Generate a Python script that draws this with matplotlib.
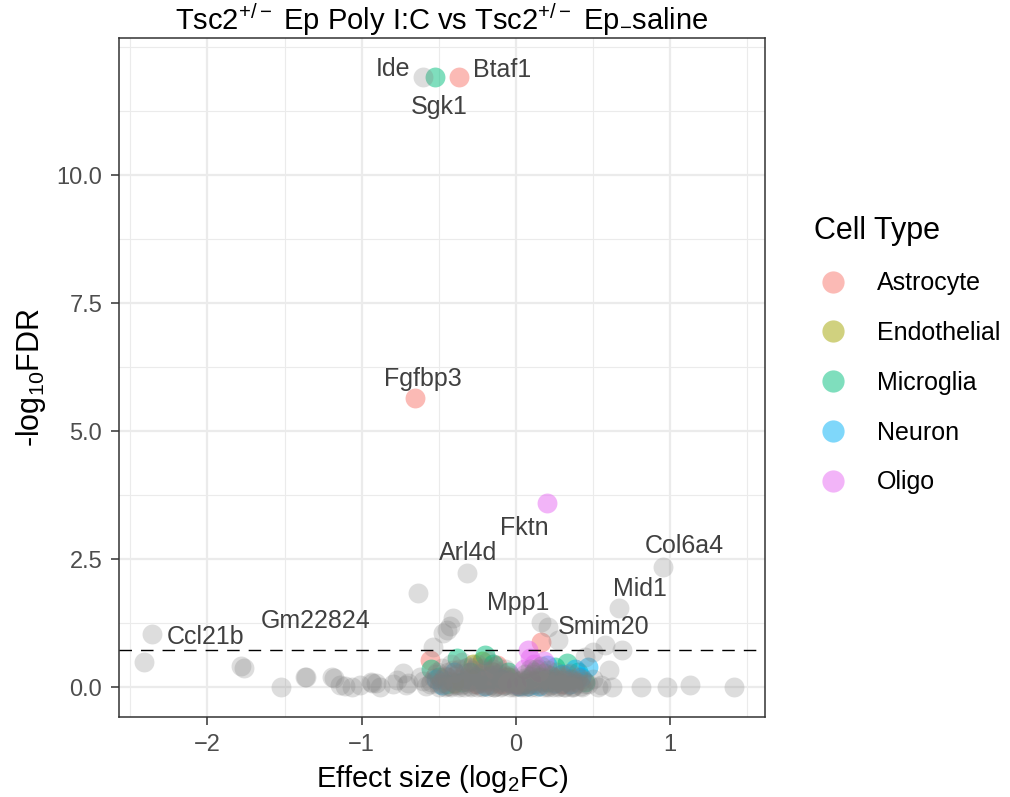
import matplotlib

matplotlib.use("Agg")
import matplotlib.pyplot as plt
from matplotlib.lines import Line2D
from matplotlib.ticker import MultipleLocator

plt.rcParams["font.family"] = ["Liberation Sans", "DejaVu Sans"]
plt.rcParams["mathtext.fontset"] = "custom"
plt.rcParams["mathtext.rm"] = "Liberation Sans"
plt.rcParams["mathtext.it"] = "Liberation Sans:italic"

# ---- data ----
cell_types = ["Astrocyte", "Endothelial", "Microglia", "Neuron", "Oligo"]
cell_colors = ["#F8766D", "#A3A500", "#00BF7D", "#00B0F6", "#E76BF3"]

grey_x = [
    -2.41, -2.36, -1.78, -1.76, -1.52, -1.37, -1.36, -1.19, -1.18, -1.14,
    -1.11, -1.06, -1.01, -0.94, -0.93, -0.91, -0.88, -0.80, -0.77, -0.73,
    -0.71, -0.70, -0.635, -0.54, -0.47, -0.45, -0.43, -0.41, -0.32, 0.16,
    0.21, 0.27, 0.36, 0.45, 0.50, 0.53, 0.58, 0.60, 0.62, 0.67, 0.69,
    0.81, 0.95, 0.98, 1.13, 1.41, -0.60,
]
grey_y = [
    0.49, 1.04, 0.41, 0.37, 0.00, 0.20, 0.20, 0.20, 0.17, 0.04,
    0.02, 0.00, 0.04, 0.10, 0.08, 0.08, 0.00, 0.05, 0.14, 0.27,
    0.04, 0.08, 1.84, 0.78, 1.05, 1.11, 1.20, 1.35, 2.22, 1.27,
    1.17, 0.92, 0.00, 0.59, 0.68, 0.00, 0.82, 0.33, 0.00, 1.54, 0.72,
    0.00, 2.35, 0.00, 0.04, 0.00, 11.91,
]

# dense non-significant cloud around zero
cloud_x = [
    -0.62, -0.60, -0.58, -0.55, -0.52, -0.50, -0.48, -0.47, -0.45, -0.44,
    -0.42, -0.41, -0.40, -0.38, -0.37, -0.36, -0.35, -0.34, -0.33, -0.32,
    -0.31, -0.30, -0.29, -0.28, -0.27, -0.26, -0.25, -0.24, -0.23, -0.22,
    -0.21, -0.20, -0.19, -0.18, -0.17, -0.16, -0.15, -0.14, -0.13, -0.12,
    -0.11, -0.10, -0.09, -0.08, -0.07, -0.06, -0.05, -0.04, -0.03, -0.02,
    -0.01, 0.00, 0.01, 0.02, 0.03, 0.04, 0.05, 0.06, 0.07, 0.08,
    0.09, 0.10, 0.11, 0.12, 0.13, 0.14, 0.15, 0.16, 0.17, 0.18,
    0.19, 0.20, 0.21, 0.22, 0.23, 0.24, 0.26, 0.27, 0.28, 0.29,
    0.30, 0.32, 0.33, 0.35, 0.36, 0.38, 0.40, 0.42, 0.44, 0.47,
    0.50, 0.55, -0.46, -0.34, -0.22, -0.14, -0.04, 0.06, 0.18, 0.31,
]
cloud_y = [
    0.20, 0.12, 0.02, 0.10, 0.25, 0.05, 0.38, 0.15, 0.02, 0.30,
    0.45, 0.10, 0.22, 0.03, 0.35, 0.14, 0.48, 0.06, 0.27, 0.18,
    0.40, 0.01, 0.12, 0.33, 0.22, 0.05, 0.44, 0.16, 0.28, 0.02,
    0.37, 0.10, 0.20, 0.50, 0.04, 0.31, 0.13, 0.24, 0.41, 0.07,
    0.18, 0.30, 0.01, 0.12, 0.36, 0.22, 0.06, 0.15, 0.20, 0.03,
    0.10, 0.01, 0.05, 0.12, 0.02, 0.14, 0.08, 0.25, 0.01, 0.16,
    0.35, 0.06, 0.25, 0.12, 0.35, 0.03, 0.20, 0.42, 0.09, 0.28,
    0.15, 0.02, 0.33, 0.10, 0.22, 0.05, 0.30, 0.14, 0.01, 0.24,
    0.08, 0.18, 0.03, 0.27, 0.11, 0.05, 0.20, 0.02, 0.12, 0.05,
    0.15, 0.03, 0.00, 0.00, 0.00, 0.00, 0.00, 0.00, 0.00, 0.00,
]
cloud2_x = [
    -0.56, -0.53, -0.51, -0.49, -0.46, -0.44, -0.43, -0.41, -0.39, -0.38,
    -0.36, -0.35, -0.33, -0.31, -0.30, -0.28, -0.27, -0.26, -0.24, -0.23,
    -0.21, -0.20, -0.19, -0.17, -0.16, -0.15, -0.13, -0.12, -0.11, -0.09,
    -0.08, -0.07, -0.06, -0.04, -0.03, -0.02, 0.00, 0.01, 0.02, 0.04,
    0.05, 0.07, 0.08, 0.09, 0.11, 0.12, 0.14, 0.15, 0.17, 0.19,
    0.20, 0.22, 0.23, 0.25, 0.26, 0.28, 0.29, 0.31, 0.33, 0.34,
    0.36, 0.37, 0.39, 0.41, 0.43, 0.45, -0.50, -0.42, -0.37, -0.29,
    -0.25, -0.18, -0.14, -0.10, -0.01, 0.03, 0.10, 0.13, 0.21, 0.24,
    0.27, 0.32, 0.37, 0.43, -0.48, -0.39, -0.32, -0.26, -0.16, -0.08,
]
cloud2_y = [
    0.05, 0.18, 0.30, 0.08, 0.22, 0.12, 0.02, 0.34, 0.16, 0.26,
    0.04, 0.20, 0.38, 0.10, 0.28, 0.06, 0.15, 0.40, 0.24, 0.08,
    0.14, 0.32, 0.03, 0.22, 0.12, 0.36, 0.02, 0.18, 0.26, 0.09,
    0.20, 0.04, 0.14, 0.24, 0.08, 0.16, 0.06, 0.02, 0.09, 0.03,
    0.18, 0.11, 0.05, 0.22, 0.14, 0.30, 0.08, 0.12, 0.20, 0.06,
    0.16, 0.24, 0.03, 0.18, 0.10, 0.20, 0.05, 0.14, 0.26, 0.09,
    0.16, 0.02, 0.10, 0.08, 0.15, 0.06, 0.00, 0.00, 0.00, 0.00,
    0.00, 0.00, 0.00, 0.00, 0.00, 0.00, 0.00, 0.00, 0.00, 0.00,
    0.00, 0.00, 0.00, 0.00, 0.10, 0.06, 0.12, 0.10, 0.06, 0.04,
]

astro_x = [-0.655, -0.37, -0.56, 0.16, -0.12, -0.15, -0.30, -0.10, 0.05, 0.20, -0.45, 0.30, -0.25]
astro_y = [5.64, 11.91, 0.53, 0.88, 0.43, 0.30, 0.15, 0.05, 0.10, 0.25, 0.20, 0.05, 0.05]

endo_x = [-0.22, -0.05, 0.10, -0.40, 0.25, -0.28]
endo_y = [0.50, 0.20, 0.10, 0.08, 0.15, 0.45]

micro_x = [
    -0.525, -0.38, -0.20, 0.33, -0.50, -0.45, -0.30, -0.15, -0.05, 0.05,
    0.15, 0.25, 0.40, -0.35, 0.20, 0.35, -0.25, 0.45, -0.55, 0.10,
]
micro_y = [
    11.91, 0.56, 0.62, 0.47, 0.20, 0.05, 0.30, 0.45, 0.30, 0.05,
    0.35, 0.40, 0.30, 0.10, 0.10, 0.15, 0.20, 0.10, 0.35, 0.20,
]

neuron_x = [0.20, 0.47, 0.38, -0.52, -0.48, 0.02, 0.08, 0.12, 0.30, -0.40, 0.25, 0.42, -0.10, 0.15, -0.20, 0.35]
neuron_y = [0.43, 0.39, 0.35, 0.15, 0.03, 0.02, 0.01, 0.05, 0.25, 0.30, 0.08, 0.20, 0.15, 0.02, 0.02, 0.05]

oligo_x = [0.20, 0.09, 0.08, 0.12, 0.05, 0.15, -0.05, 0.10, 0.18, 0.00]
oligo_y = [3.59, 0.56, 0.72, 0.45, 0.35, 0.30, 0.10, 0.15, 0.50, 0.05]

# labelled genes: name, point, text offset in points (dx, dy)
label_genes = ["Ide", "Btaf1", "Sgk1", "Fgfbp3", "Fktn", "Arl4d",
               "Col6a4", "Mid1", "Mpp1", "Smim20", "Gm22824", "Ccl21b"]
label_x = [-0.60, -0.37, -0.525, -0.655, 0.20, -0.32,
           0.95, 0.67, 0.16, 0.21, -0.635, -2.36]
label_y = [11.91, 11.91, 11.91, 5.64, 3.59, 2.22,
           2.35, 1.54, 1.27, 1.17, 1.84, 1.04]
label_dx = [-22, 31, 3, 6, -16, 1, 16, 15, -16, 40, -74, 39]
label_dy = [6, 5, -21, 14, -18, 15, 15, 14, 14, 0, -20, -2]

fdr_line = 0.72

# ---- figure ----
fig = plt.figure(figsize=(10.10, 7.97), dpi=100)
ax = fig.add_axes([119 / 1010, 1 - 717 / 797, (765 - 119) / 1010, (717 - 38) / 797])

size = 205
alpha = 0.5
grey = "#7F7F7F"
grey_alpha = 0.26

groups = [
    (astro_x, astro_y),
    (endo_x, endo_y),
    (micro_x, micro_y),
    (neuron_x, neuron_y),
    (oligo_x, oligo_y),
]
for (gx, gy), color in zip(groups, cell_colors):
    ax.scatter(gx, gy, s=size, color=color, alpha=alpha, linewidths=0, zorder=3)

for gx, gy in [(cloud_x, cloud_y), (cloud2_x, cloud2_y), (grey_x, grey_y)]:
    ax.scatter(gx, gy, s=size, color=grey, alpha=grey_alpha, linewidths=0, zorder=3)

ax.axhline(fdr_line, color="black", linestyle=(0, (9, 6.5)), linewidth=1.0, zorder=4)

for name, x, y, dx, dy in zip(label_genes, label_x, label_y, label_dx, label_dy):
    ax.annotate(
        name,
        (x, y),
        xytext=(dx, dy),
        textcoords="offset points",
        ha="center",
        va="center",
        fontsize=18,
        color="#404040",
        zorder=5,
    )

ax.set_xlim(-2.573, 1.614)
ax.set_ylim(-0.586, 12.68)
ax.xaxis.set_minor_locator(MultipleLocator(0.5))
ax.yaxis.set_minor_locator(MultipleLocator(1.25))
ax.set_xticks([-2, -1, 0, 1])
ax.set_xticklabels(["\u22122", "\u22121", "0", "1"])
ax.set_yticks([0, 2.5, 5, 7.5, 10])
ax.set_yticklabels(["0.0", "2.5", "5.0", "7.5", "10.0"])

ax.grid(which="major", color="#EBEBEB", linewidth=1.6, zorder=0)
ax.grid(which="minor", color="#EBEBEB", linewidth=0.8, zorder=0)
ax.set_axisbelow(True)
ax.tick_params(which="major", length=6, width=1.1, color="#333333",
               labelsize=17, labelcolor="#4D4D4D", pad=6)
ax.tick_params(which="minor", length=0)
for spine in ax.spines.values():
    spine.set_color("#333333")
    spine.set_linewidth(1.1)

ax.set_xlabel("Effect size (log$_2$FC)", fontsize=21, labelpad=5)
ax.set_ylabel("-log$_{10}$FDR", fontsize=22, labelpad=6)
ax.set_title("Tsc2$^{+/-}$ Ep Poly I:C vs Tsc2$^{+/-}$ Ep$_{-}$saline", fontsize=21, pad=5)

handles = [
    Line2D([], [], marker="o", linestyle="", markersize=16, markeredgewidth=0,
           color=color, alpha=alpha)
    for color in cell_colors
]
leg = fig.legend(
    handles,
    cell_types,
    title="Cell Type",
    loc="upper left",
    bbox_to_anchor=(792 / 1010, 1 - 193 / 797),
    frameon=False,
    fontsize=18,
    title_fontsize=22,
    labelspacing=1.03,
    handletextpad=1.0,
    handlelength=1.5,
)
leg._legend_box.align = "left"

fig.savefig("out.png", dpi=100)
